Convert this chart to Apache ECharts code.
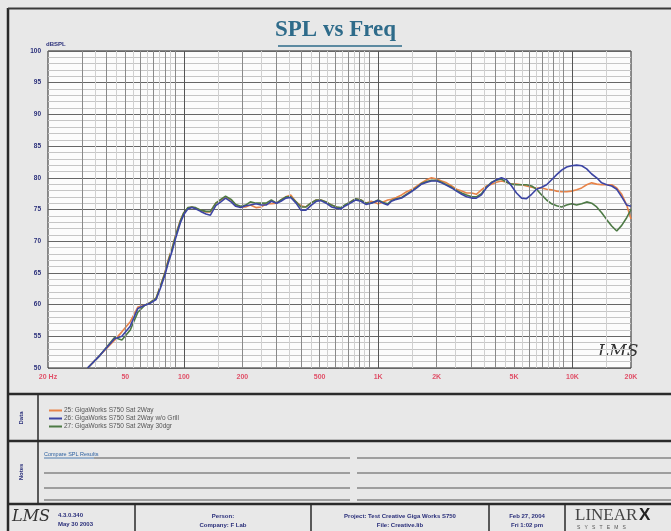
<!DOCTYPE html>
<html>
<head>
<meta charset="utf-8">
<script src="https://cdn.jsdelivr.net/npm/echarts@6/dist/echarts.min.js"></script>
<style>
html,body{margin:0;padding:0;background:#e8e8e8;}
#c{width:671px;height:531px;}
</style>
</head>
<body>
<div id="c"></div>
<script>
// ---------- data ----------
const freqHz = [32,37,44,48,53,58,63,67,72,76,80,83,87,91,96,100,105,110,115,122,130,137,146,155,164,175,185,196,208,220,235,250,265,282,300,316,335,355,378,400,425,450,480,507,540,575,610,643,680,720,765,815,865,920,1000,1060,1120,1170,1240,1320,1400,1480,1580,1670,1780,1880,2000,2120,2250,2390,2530,2690,2850,3030,3200,3400,3600,3830,4060,4310,4580,4860,5150,5470,5800,6160,6530,6940,7360,7810,8290,8790,9330,9900,10500,11150,11830,12550,13320,14130,15000,15910,16890,17920,19000,20000];
const spl25 = [50.0,52.0,54.4,55.7,57.3,59.6,59.9,60.3,61.0,63.1,65.1,67.0,68.9,71.1,73.3,74.5,75.2,75.4,75.2,74.9,74.6,74.6,76.0,76.5,77.0,76.5,75.7,75.4,75.4,75.7,75.3,75.4,75.9,75.9,76.0,76.5,77.0,77.3,76.2,75.6,75.4,76.0,76.5,76.5,76.2,75.7,75.4,75.2,75.7,76.2,76.7,76.5,76.0,76.3,75.9,76.2,76.5,76.6,76.9,77.3,77.8,78.1,78.7,79.2,79.7,80.0,79.8,79.5,79.2,78.7,78.2,77.9,77.6,77.6,77.4,78.1,78.7,79.0,79.3,79.5,79.3,79.0,79.0,78.9,78.7,78.5,78.4,78.4,78.2,78.1,77.9,77.8,77.8,77.9,78.1,78.4,78.9,79.2,79.0,78.9,78.9,78.9,78.4,77.4,75.7,73.5];
const spl26 = [50.0,52.0,54.6,55.0,56.6,59.4,59.9,60.2,60.8,62.7,64.7,66.5,68.4,70.6,72.9,74.2,75.1,75.3,75.1,74.7,74.3,74.1,75.6,76.2,76.8,76.2,75.5,75.3,75.6,75.7,75.9,75.7,75.7,76.3,76.0,76.3,76.8,76.9,76.0,74.9,74.9,75.6,76.3,76.4,76.0,75.4,75.2,75.1,75.6,76.0,76.5,76.3,75.8,76.0,76.4,76.0,75.7,76.3,76.6,76.8,77.3,77.8,78.4,79.0,79.3,79.5,79.5,79.2,78.8,78.4,77.9,77.4,77.0,76.8,76.8,77.3,78.4,79.2,79.7,80.0,79.7,78.7,77.6,76.8,76.7,77.4,78.2,78.5,78.9,79.7,80.5,81.2,81.7,81.9,82.0,81.9,81.4,80.6,80.0,79.2,78.9,78.7,78.2,77.0,75.7,75.5];
const spl27 = [50.0,52.0,54.8,54.4,56.0,58.8,59.9,60.3,61.0,63.0,65.0,66.8,68.8,71.0,73.2,74.5,75.3,75.4,75.3,74.9,74.7,74.7,76.0,76.6,77.1,76.6,75.8,75.5,75.7,76.2,76.0,76.0,76.0,76.5,76.0,76.5,77.0,77.0,76.2,75.4,75.4,76.0,76.5,76.5,76.2,75.7,75.4,75.3,75.8,76.2,76.7,76.5,76.0,76.0,76.5,76.1,75.9,76.4,76.7,76.9,77.4,77.9,78.5,79.1,79.4,79.6,79.6,79.3,78.9,78.5,78.0,77.6,77.3,77.0,77.0,77.5,78.5,79.3,79.6,79.8,79.3,79.0,78.9,78.9,78.9,78.7,78.2,77.3,76.5,75.9,75.6,75.4,75.7,75.9,75.7,75.9,76.2,76.0,75.4,74.5,73.4,72.4,71.6,72.5,73.7,75.0];
const seriesNames = ['25: GigaWorks S750 Sat 2Way','26: GigaWorks S750 Sat 2Way w/o Grill','27: GigaWorks S750 Sat 2Way 30dgr'];
const xTickValues = [20,50,100,200,500,1000,2000,5000,10000,20000];
const xTickLabels = ['20 Hz','50','100','200','500','1K','2K','5K','10K','20K'];

// ---------- chart ----------
const chart = echarts.init(document.getElementById('c'), null, {renderer:'canvas'});
const pairs = a => freqHz.map((f,i)=>[f,a[i]]);

const gridLines = [];
for (let d = 10; d <= 10000; d *= 10) {
  for (let m = 1; m <= 9; m++) {
    const v = d*m;
    if (v <= 20 || v >= 20000) continue;
    gridLines.push({xAxis: v, lineStyle:{color: m===1 ? '#555' : '#8a8a8a', width: 1, type:'solid'}});
    if (m < 9) gridLines.push({xAxis: v + d*0.5, lineStyle:{color:'#d0d0d0', width:1, type:'solid'}});
  }
}

const labelMap = {};
xTickValues.forEach((v,i)=>labelMap[v]=xTickLabels[i]);

const FONT_S = 'bold 6px "Liberation Sans Narrow", "Liberation Sans"';
const txt = (x,y,t,o) => ({type:'text', left:x, top:y, style:Object.assign({text:t, fill:'#2a2f7a', font:FONT_S}, o||{})});
const ctxt = (x,y,t) => ({type:'text', x:x, y:y, style:{text:t, fill:'#2a2f7a', font:FONT_S, align:'center', verticalAlign:'middle'}});
const hline = (x1,x2,y,w,c) => ({type:'line', shape:{x1:x1,y1:y,x2:x2,y2:y}, style:{stroke:c||'#333', lineWidth:w||1}});
const vline = (x,y1,y2,w,c) => ({type:'line', shape:{x1:x,y1:y1,x2:x,y2:y2}, style:{stroke:c||'#333', lineWidth:w||1}});

const graphics = [
  vline(8,8,531,2.5,'#2a2a2a'),
  hline(8,671,8.5,2,'#3a3a3a'),
  hline(278,402,46,1.5,'#2e6b8a'),
  hline(8,671,394,2.5,'#2a2a2a'),
  hline(8,671,441,2.5,'#2a2a2a'),
  hline(8,671,504,2.5,'#2a2a2a'),
  vline(38,394,504,1.5,'#2a2a2a'),
  vline(135,504,531,1.5,'#2a2a2a'),
  vline(311,504,531,1.5,'#2a2a2a'),
  vline(489,504,531,1.5,'#2a2a2a'),
  vline(565,504,531,1.5,'#2a2a2a'),
  {type:'text', x:21, y:418, rotation:Math.PI/2, style:{text:'Data', fill:'#2a2f7a', font:FONT_S, align:'center', verticalAlign:'middle'}},
  {type:'text', x:21, y:472, rotation:Math.PI/2, style:{text:'Notes', fill:'#2a2f7a', font:FONT_S, align:'center', verticalAlign:'middle'}},
  txt(44,451,'Compare SPL Results',{fill:'#2a5fa0', font:'5.5px "Liberation Sans Narrow", "Liberation Sans"'}),
  hline(44,94,458,0.8,'#2a5fa0'),
  hline(94,350,458,1,'#555'), hline(357,671,458,1,'#555'),
  hline(44,350,473,1,'#555'), hline(357,671,473,1,'#555'),
  hline(44,350,488,1,'#555'), hline(357,671,488,1,'#555'),
  hline(44,350,500,1,'#555'), hline(357,671,500,1,'#555'),
  {type:'text', left:598, top:343, style:{text:'LMS', fill:'#333', font:'italic 17px DejaVu Serif'}},
  {type:'text', left:12, top:509, style:{text:'LMS', fill:'#333', font:'italic 16px DejaVu Serif'}},
  txt(58,512,'4.3.0.340'),
  txt(58,521,'May 30 2003'),
  ctxt(223,516,'Person:'),
  ctxt(223,525,'Company: F Lab'),
  ctxt(400,516,'Project: Test Creative Giga Works S750'),
  ctxt(400,525,'File: Creative.lib'),
  ctxt(527,516,'Feb 27, 2004'),
  ctxt(527,525,'Fri 1:02 pm'),
  {type:'text', left:575, top:507, style:{text:'LINEAR', fill:'#444', font:'17px Liberation Serif'}},
  {type:'text', left:639, top:507, style:{text:'X', fill:'#222', font:'bold 17px Liberation Sans'}},
  {type:'text', left:577, top:525, style:{text:'S   Y   S   T   E   M   S', fill:'#555', font:'5px Liberation Sans'}}
];

chart.setOption({
  backgroundColor:'#e8e8e8',
  animation:false,
  title:{
    text:'SPL vs Freq', left:'center', top:19, padding:0,
    textStyle:{fontFamily:'Liberation Serif', fontWeight:'bold', fontSize:23, color:'#2e6b8a'}
  },
  legend:{
    orient:'vertical', left:44, top:402, itemGap:1, itemWidth:13, itemHeight:2, icon:'rect',
    data:seriesNames,
    textStyle:{fontSize:6.5, color:'#555', fontFamily:'"Liberation Sans Narrow", "Liberation Sans"', padding:[0,0,0,-3]},
    selectedMode:false
  },
  grid:{left:48, top:51, width:583, height:317, show:true, backgroundColor:'#fcfcfc', borderColor:'#222', borderWidth:1},
  xAxis:{
    type:'log', logBase:10, min:20, max:20000,
    axisLine:{show:false}, axisTick:{show:false}, splitLine:{show:false},
    axisLabel:{customValues:xTickValues, formatter:v=>labelMap[Math.round(v)]||'', color:'#e05068', fontSize:7, fontWeight:'bold', margin:6, fontFamily:'Liberation Sans'}
  },
  yAxis:{
    type:'value', min:50, max:100, interval:5,
    name:'dBSPL', nameLocation:'end', nameGap:3,
    nameTextStyle:{color:'#2a2f7a', fontSize:6, fontWeight:'bold', align:'left', padding:[0,0,0,-2]},
    axisLine:{show:false}, axisTick:{show:false},
    axisLabel:{color:'#2a2f7a', fontSize:6.5, fontWeight:'bold', margin:7, fontFamily:'Liberation Sans'},
    splitLine:{show:true, lineStyle:{color:'#666', width:1}},
    minorTick:{show:false, splitNumber:5},
    minorSplitLine:{show:true, lineStyle:{color:'#c6c6c6', width:1}}
  },
  series:[
    {name:'grid', type:'line', data:[], silent:true, z:1,
      markLine:{silent:true, symbol:'none', label:{show:false}, animation:false, data:gridLines}},
    {name:seriesNames[0], type:'line', data:pairs(spl25), showSymbol:false, symbol:'none', z:3, lineStyle:{color:'#e8844a', width:1.6}, itemStyle:{color:'#e8844a'}},
    {name:seriesNames[2], type:'line', data:pairs(spl27), showSymbol:false, symbol:'none', z:4, lineStyle:{color:'#4d7a45', width:1.6}, itemStyle:{color:'#4d7a45'}},
    {name:seriesNames[1], type:'line', data:pairs(spl26), showSymbol:false, symbol:'none', z:5, lineStyle:{color:'#3c45a4', width:1.6}, itemStyle:{color:'#3c45a4'}}
  ],
  graphic:graphics
});
</script>
</body>
</html>
